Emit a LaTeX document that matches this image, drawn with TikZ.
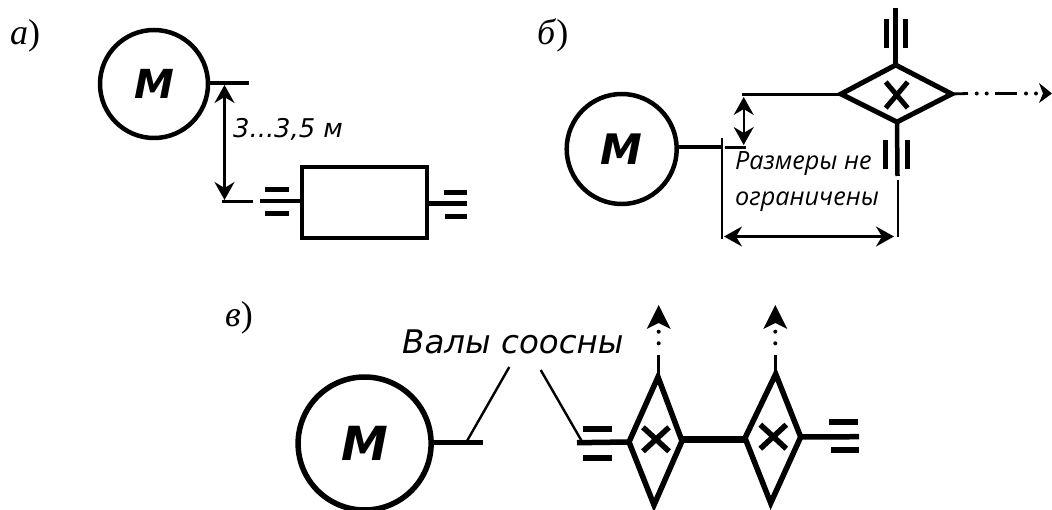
\documentclass[tikz,border=0pt]{standalone}
\usepackage{fontspec}
\usetikzlibrary{arrows.meta}
\setmainfont{Liberation Serif}
\newfontfamily\djv{DejaVu Sans}
\newfontfamily\ops{Open Sans}
\tikzset{
  motor/.style={circle,draw,inner sep=0pt,font=\djv\bfseries\itshape\fontsize{#1}{#1}\selectfont},
  shaft/.style={line width=4.5pt},
  thin line/.style={line width=2.4pt},
  bearing/.style={line width=5pt},
  dim/.style={line width=2.4pt,{Stealth[length=18pt,width=20pt,inset=6pt]}-{Stealth[length=18pt,width=20pt,inset=6pt]}},
  gear/.style={line width=5pt,miter limit=10},
  cap label/.style={anchor=base west,inner sep=0pt,font=\fontsize{36}{36}\selectfont},
  note/.style={anchor=base west,inner sep=0pt,text=black},
  point/.style={circle,fill,inner sep=0pt,minimum size=4pt}
}
\begin{document}
\begin{tikzpicture}[x=1pt,y=-1pt]
\useasboundingbox (0,0) rectangle (1052,510);
\clip (0,0) rectangle (1052,510);
\fill[white] (0,0) rectangle (1052,510);

% --- a)
\node[cap label] (la) at (10,45) {\textit{а})};
\node[motor=40,line width=4.5pt,minimum size=108pt] (ma) at (154,84) {М};
\coordinate (aS1) at (249,83);
\draw[shaft] (ma.east |- aS1) -- (aS1);
\coordinate (aT) at (224.5,85);
\coordinate (aB) at (224.5,200);
\draw[dim] (aT) -- (aB);
\coordinate (aTa) at (222,201.5); \coordinate (aTb) at (253,201.5);
\draw[line width=2.6pt] (aTa) -- (aTb);
\node[note,font=\djv\itshape\fontsize{25.8}{25.8}\selectfont] (ta) at (233,138) {3...3,5 м};
\node[draw,line width=4.5pt,minimum width=125pt,minimum height=71pt,inner sep=0pt] (ra) at (364.5,202.5) {};
\coordinate (aL) at (260,201);
\draw[shaft] (aL) -- (aL -| ra.west);
\coordinate (aR) at (467,203.5);
\draw[shaft] (ra.east |- aR) -- (aR);
\foreach \xa/\xb/\yy in {265/289/190,265/289/214,444/467/193,445/467/216.5}
  \draw[bearing] (\xa,\yy) -- (\xb,\yy);

% --- b)
\node[cap label] (lb) at (537,45) {\textit{б})};
\node[motor=42,line width=4.5pt,minimum size=110pt] (mb) at (621.7,149) {М};
\coordinate (bS) at (721,147);
\draw[shaft] (mb.east |- bS) -- (bS);
\coordinate (bV1) at (721.7,138); \coordinate (bV2) at (721.7,239);
\draw[thin line] (bV1) -- (bV2);
\coordinate (bT1) at (725,147.5); \coordinate (bT2) at (746,147.5);
\draw[thin line] (bT1) -- (bT2);
\coordinate (bDl) at (841,94); \coordinate (bDt) at (895.7,65);
\coordinate (bDr) at (951.7,94); \coordinate (bDb) at (897,122);
\coordinate (bC) at (896.7,95);
\coordinate (bH) at (742,94.5);
\draw[thin line] (bH) -- (bH -| bDl);
\draw[gear] (bDl) -- (bDt) -- (bDr) -- (bDb) -- cycle;
\draw[line width=5pt] ([shift={(-11,-13)}]bC) -- ([shift={(11,13)}]bC)
  ([shift={(11,-13)}]bC) -- ([shift={(-11,13)}]bC);
\coordinate (bA1) at (743.7,97); \coordinate (bA2) at (743.7,145);
\draw[dim] (bA1) -- (bA2);
\coordinate (bUp) at (895.7,8);
\draw[shaft] (bDt) -- (bUp);
\coordinate (bDn) at (897.5,176);
\draw[shaft] (bDb) -- (bDn);
\draw[bearing] (886,19) -- (886,48);
\draw[bearing] (905.7,19) -- (905.7,48);
\draw[bearing] (885.3,140) -- (885.3,169);
\draw[bearing] (907,140) -- (907,169);
\coordinate (bL1) at (897.7,180); \coordinate (bL2) at (897.7,237);
\draw[thin line] (bL1) -- (bL2);
\coordinate (bW1) at (724,236.5); \coordinate (bW2) at (894,236.5);
\draw[dim] (bW1) -- (bW2);
\node[note,font=\ops\itshape\fontsize{25.2}{25.2}\selectfont] (t1) at (735,170) {Размеры не};
\node[note,font=\ops\itshape\fontsize{25.2}{25.2}\selectfont] (t2) at (735,206) {ограничены};
% dash-dot axis
\draw[line width=2.8pt] (bDr) -- (968,93.5);
\draw[line width=2.8pt] (995,93.5) -- (1017,93.5);
\node[point] (bp1) at (976.7,93.5) {};
\node[point] (bp2) at (986.7,93.5) {};
\node[point] (bp3) at (1026,93.5) {};
\node[point] (bp4) at (1036,93.5) {};
\fill (1039,83) -- (1052,93.5) -- (1039,103) -- (1043,93.5) -- cycle;

% --- v)
\node[cap label] (lc) at (225,327) {\textit{в})};
\node[motor=47,line width=5.5pt,minimum size=133pt] (mc) at (364.6,443.5) {М};
\coordinate (cS) at (483,442.5);
\draw[line width=5.5pt] (mc.east |- cS) -- (cS);
\node[note,font=\djv\itshape\fontsize{32.5}{32.5}\selectfont] (tc) at (402,354) {Валы соосны};
\coordinate (cN1) at (509.3,367); \coordinate (cN2) at (540.7,370);
\draw[thin line] (cN1) -- (467,441);
\draw[thin line] (cN2) -- (581.7,441);
% first gear
\coordinate (dL) at (629,442); \coordinate (dT) at (658,377);
\coordinate (dR) at (682,441); \coordinate (dB) at (654,505);
\draw[line width=5.5pt] (dL) -- (dT) -- (dR) -- (dB) -- cycle;
\coordinate (dC) at (656,439.3);
\draw[line width=5.5pt] ([shift={(-13,-12)}]dC) -- ([shift={(13,12)}]dC)
  ([shift={(13,-12)}]dC) -- ([shift={(-13,12)}]dC);
% second gear
\coordinate (eL) at (745,438); \coordinate (eT) at (775.7,374);
\coordinate (eR) at (800.7,437); \coordinate (eB) at (770.7,503);
\draw[line width=5.5pt] (eL) -- (eT) -- (eR) -- (eB) -- cycle;
\coordinate (eC) at (773.3,436.7);
\draw[line width=5.5pt] ([shift={(-13,-12)}]eC) -- ([shift={(13,12)}]eC)
  ([shift={(13,-12)}]eC) -- ([shift={(-13,12)}]eC);
% shafts
\coordinate (cI) at (577,442.7);
\draw[line width=5.5pt] (cI) -- (dL);
\draw[line width=6.5pt] (dR |- 0,439.3) -- (eL |- 0,439.3);
\coordinate (cO) at (859,436.7);
\draw[line width=5.5pt] (eR) -- (cO);
\foreach \xa/\xb/\yy in {583/612/429,583/612/458,829.3/858/422.3,831/859/450}
  \draw[line width=6pt] (\xa,\yy) -- (\xb,\yy);
% output arrows
\foreach \n/\xx/\yt in {d/658.7/377,e/775.3/374}{
  \coordinate (\n U) at (\xx,355);
  \draw[line width=2.8pt] (\xx,\yt) -- (\n U);
  \node[point] at (\xx,343.3) {};
  \node[point] at (\xx,331.7) {};
  \fill (\xx,305) -- (\xx+12,329) -- (\xx,323) -- (\xx-12,329) -- cycle;
}
\end{tikzpicture}
\end{document}
